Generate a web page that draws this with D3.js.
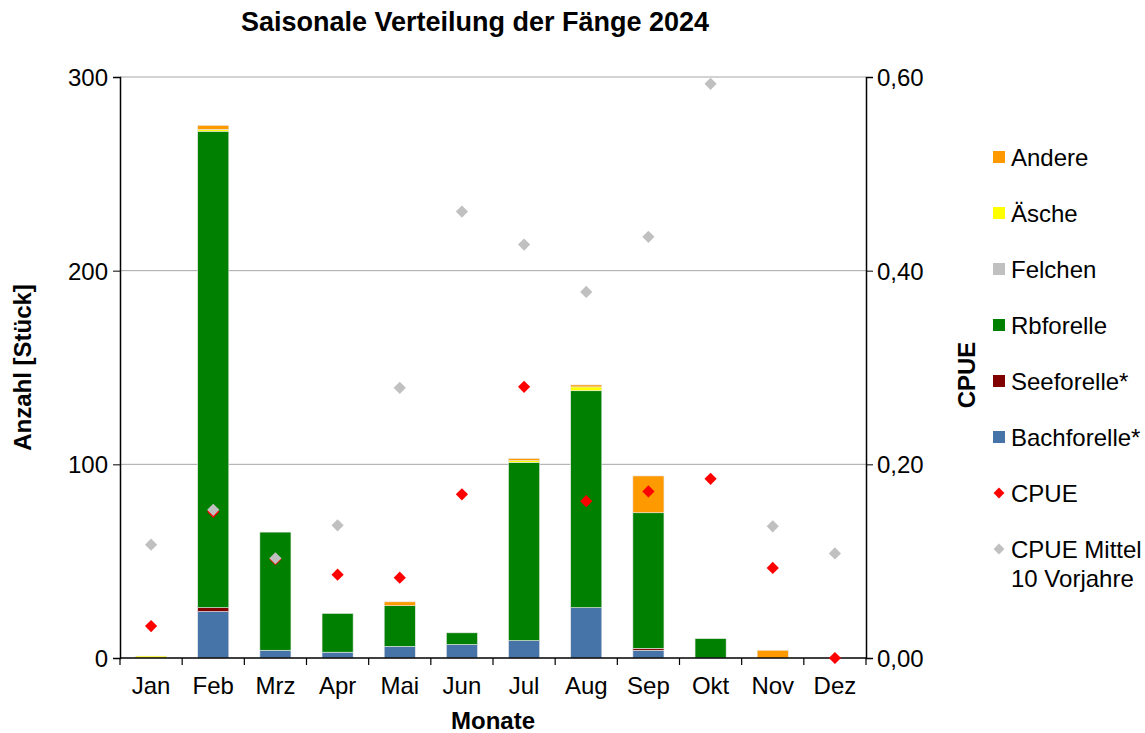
<!DOCTYPE html>
<html>
<head>
<meta charset="utf-8">
<script src="https://cdn.jsdelivr.net/npm/d3@7"></script>
<style>
  body { margin: 0; background: #fff; }
  svg text { font-family: "Liberation Sans", Arial, sans-serif; fill: #000; }
</style>
</head>
<body>
<svg id="chart" xmlns="http://www.w3.org/2000/svg"></svg>
<script>
const months = ["Jan", "Feb", "Mrz", "Apr", "Mai", "Jun", "Jul", "Aug", "Sep", "Okt", "Nov", "Dez"];

// stacked catch counts per month (bottom to top)
const bachforelle = [0, 24, 4, 3, 6, 7, 9, 26, 4, 0, 0, 0];
const seeforelle = [0, 2, 0, 0, 0, 0, 0, 0, 1, 0, 0, 0];
const rbforelle = [0, 246, 61, 20, 21, 6, 92, 112, 70, 10, 0, 0];
const felchen = [0, 0, 0, 0, 0, 0, 0, 0, 0, 0, 0, 0];
const aesche = [1, 1, 0, 0, 0, 0, 1, 2, 0, 0, 0, 0];
const andere = [0, 2, 0, 0, 2, 0, 1, 1, 19, 0, 4, 0];

const cpue = [0.033, 0.151, 0.102, 0.086, 0.083, 0.169, 0.280, 0.162, 0.172, 0.185, 0.093, 0.0];
const cpueMittel = [0.117, 0.153, 0.103, 0.137, 0.279, 0.461, 0.427, 0.378, 0.435, 0.593, 0.136, 0.108];

const leftTicks = [0, 100, 200, 300];
const rightTicks = [0, 0.2, 0.4, 0.6];

const series = [
  { key: "Bachforelle*", values: bachforelle, color: "#4774A8" },
  { key: "Seeforelle*", values: seeforelle, color: "#800000" },
  { key: "Rbforelle", values: rbforelle, color: "#008000" },
  { key: "Felchen", values: felchen, color: "#C0C0C0" },
  { key: "Äsche", values: aesche, color: "#FFFF00" },
  { key: "Andere", values: andere, color: "#FF9900" }
];

const width = 1145;
const height = 733;
const margin = { top: 77, right: 279, bottom: 75, left: 120 };
const innerW = width - margin.left - margin.right;
const innerH = height - margin.top - margin.bottom;
const font = "Liberation Sans, Arial, sans-serif";

const svg = d3.select("#chart")
  .attr("width", width)
  .attr("height", height);

const g = svg.append("g")
  .attr("transform", "translate(" + margin.left + "," + margin.top + ")");

const xScale = d3.scaleBand().domain(months).range([0, innerW]).paddingInner(0.5).paddingOuter(0.25);
const xBand = d3.scaleBand().domain(months).range([0, innerW]);
const yScale = d3.scaleLinear().domain([0, 300]).range([innerH, 0]);
const y2Scale = d3.scaleLinear().domain([0, 0.6]).range([innerH, 0]);

// gridlines
g.selectAll(".grid")
  .data(leftTicks.filter(d => d > 0))
  .enter()
  .append("line")
  .attr("x1", 0)
  .attr("x2", innerW)
  .attr("y1", d => yScale(d))
  .attr("y2", d => yScale(d))
  .attr("stroke", "#a6a6a6")
  .attr("stroke-width", 1);

// stacked bars
const table = months.map((m, i) => {
  const row = { month: m };
  series.forEach(s => { row[s.key] = s.values[i]; });
  return row;
});
const stacked = d3.stack().keys(series.map(s => s.key))(table);

g.selectAll(".layer")
  .data(stacked)
  .enter()
  .append("g")
  .attr("fill", (d, i) => series[i].color)
  .selectAll("rect")
  .data(d => d.filter(v => v[1] - v[0] > 0))
  .enter()
  .append("rect")
  .attr("x", d => xScale(d.data.month))
  .attr("width", xScale.bandwidth())
  .attr("y", d => yScale(d[1]))
  .attr("height", d => yScale(d[0]) - yScale(d[1]))
  .attr("stroke", "#e8e8e8")
  .attr("stroke-width", 0.6);

// axes
const xAxis = g.append("g")
  .attr("transform", "translate(0," + innerH + ")");
xAxis.append("line")
  .attr("x1", 0).attr("x2", innerW)
  .attr("stroke", "#000").attr("stroke-width", 1.5);
xAxis.selectAll(".xtick")
  .data(months.concat(["end"]))
  .enter()
  .append("line")
  .attr("x1", (d, i) => i * xBand.bandwidth())
  .attr("x2", (d, i) => i * xBand.bandwidth())
  .attr("y1", 0).attr("y2", 7)
  .attr("stroke", "#000").attr("stroke-width", 1.2);
xAxis.selectAll(".xlabel")
  .data(months)
  .enter()
  .append("text")
  .attr("x", d => xBand(d) + xBand.bandwidth() / 2)
  .attr("y", 36)
  .attr("text-anchor", "middle")
  .style("font-size", "24px")
  .text(d => d);

g.append("g")
  .call(d3.axisLeft(yScale).tickValues(leftTicks).tickSize(7).tickPadding(5).tickFormat(d3.format("d")))
  .call(ax => ax.select(".domain").attr("stroke-width", 1.5))
  .call(ax => ax.selectAll("text").style("font-size", "24px").style("font-family", font).attr("dy", "0.35em"));

g.append("g")
  .attr("transform", "translate(" + innerW + ",0)")
  .call(d3.axisRight(y2Scale).tickValues(rightTicks).tickSize(7).tickPadding(4)
    .tickFormat(d => d3.format(".2f")(d).replace(".", ",")))
  .call(ax => ax.select(".domain").attr("stroke-width", 1.5))
  .call(ax => ax.selectAll("text").style("font-size", "24px").style("font-family", font).attr("dy", "0.35em"));

// CPUE diamonds
const diamond = d3.symbol().type(d3.symbolDiamond2).size(95);

g.selectAll(".cpue")
  .data(cpue)
  .enter()
  .append("path")
  .attr("d", diamond)
  .attr("transform", (d, i) => "translate(" + (xBand(months[i]) + xBand.bandwidth() / 2) + "," + y2Scale(d) + ")")
  .attr("fill", "#FF0000");

g.selectAll(".cpueMittel")
  .data(cpueMittel)
  .enter()
  .append("path")
  .attr("d", diamond)
  .attr("transform", (d, i) => "translate(" + (xBand(months[i]) + xBand.bandwidth() / 2) + "," + y2Scale(d) + ")")
  .attr("fill", "#C0C0C0");

// titles
svg.append("text")
  .attr("x", 475)
  .attr("y", 31)
  .attr("text-anchor", "middle")
  .style("font-size", "27px")
  .style("font-weight", "bold")
  .text("Saisonale Verteilung der Fänge 2024");

svg.append("text")
  .attr("x", 493)
  .attr("y", 729)
  .attr("text-anchor", "middle")
  .style("font-size", "24px")
  .style("font-weight", "bold")
  .text("Monate");

svg.append("text")
  .attr("transform", "translate(31," + (margin.top + innerH / 2) + ") rotate(-90)")
  .attr("text-anchor", "middle")
  .style("font-size", "24px")
  .style("font-weight", "bold")
  .text("Anzahl [Stück]");

svg.append("text")
  .attr("transform", "translate(975,375) rotate(-90)")
  .attr("text-anchor", "middle")
  .style("font-size", "24px")
  .style("font-weight", "bold")
  .text("CPUE");

// legend
const legendItems = [
  { label: ["Andere"], color: "#FF9900", type: "rect" },
  { label: ["Äsche"], color: "#FFFF00", type: "rect" },
  { label: ["Felchen"], color: "#C0C0C0", type: "rect" },
  { label: ["Rbforelle"], color: "#008000", type: "rect" },
  { label: ["Seeforelle*"], color: "#800000", type: "rect" },
  { label: ["Bachforelle*"], color: "#4774A8", type: "rect" },
  { label: ["CPUE"], color: "#FF0000", type: "diamond" },
  { label: ["CPUE Mittel", "10 Vorjahre"], color: "#C0C0C0", type: "diamond" }
];

const legend = svg.append("g").attr("transform", "translate(993,157)");
const item = legend.selectAll(".item")
  .data(legendItems)
  .enter()
  .append("g")
  .attr("transform", (d, i) => "translate(0," + i * 56 + ")");

item.filter(d => d.type === "rect")
  .append("rect")
  .attr("x", 0).attr("y", -6)
  .attr("width", 12).attr("height", 12)
  .attr("fill", d => d.color);

item.filter(d => d.type === "diamond")
  .append("path")
  .attr("d", d3.symbol().type(d3.symbolDiamond2).size(75))
  .attr("transform", "translate(6,0)")
  .attr("fill", d => d.color);

item.append("text")
  .attr("x", 18)
  .attr("y", 9)
  .style("font-size", "24px")
  .selectAll("tspan")
  .data(d => d.label)
  .enter()
  .append("tspan")
  .attr("x", 18)
  .attr("dy", (d, i) => (i === 0 ? 0 : 29))
  .text(d => d);
</script>
</body>
</html>
